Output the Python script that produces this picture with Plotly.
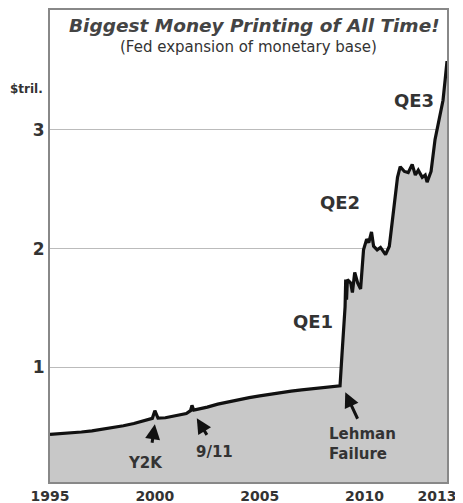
import plotly.graph_objects as go

years = [1995.0, 1995.5, 1996.0, 1996.5, 1997.0, 1997.5, 1998.0, 1998.5, 1999.0, 1999.5,
         1999.88, 2000.0, 2000.08, 2000.15, 2000.5, 2001.0, 2001.5, 2001.7, 2001.77, 2001.85,
         2002.0, 2002.5, 2003.0, 2003.5, 2004.0, 2004.5, 2005.0, 2005.5, 2006.0, 2006.5,
         2007.0, 2007.5, 2008.0, 2008.5, 2008.83, 2008.92, 2009.07, 2009.1, 2009.14, 2009.18,
         2009.34, 2009.42, 2009.53, 2009.67, 2009.81, 2009.95, 2010.1, 2010.2, 2010.33, 2010.43,
         2010.6, 2010.76, 2011.0, 2011.18, 2011.38, 2011.57, 2011.7, 2011.9, 2012.08, 2012.27,
         2012.42, 2012.56, 2012.75, 2012.89, 2012.98, 2013.17, 2013.36, 2013.55, 2013.74, 2013.84,
         2013.93]
base = [0.435, 0.44, 0.447, 0.455, 0.465, 0.478, 0.49, 0.508, 0.527, 0.548,
        0.57, 0.635, 0.60, 0.572, 0.575, 0.59, 0.61, 0.635, 0.68, 0.64,
        0.645, 0.665, 0.69, 0.71, 0.728, 0.745, 0.76, 0.775, 0.79, 0.80,
        0.81, 0.82, 0.83, 0.838, 0.845, 1.1, 1.51, 1.74, 1.57, 1.74,
        1.71, 1.63, 1.80, 1.71, 1.66, 1.99, 2.08, 2.05, 2.14, 2.02,
        1.99, 2.01, 1.95, 2.02, 2.33, 2.60, 2.69, 2.65, 2.64, 2.71,
        2.62, 2.66, 2.60, 2.62, 2.56, 2.65, 2.92, 3.08, 3.25, 3.42,
        3.58]

x_tickvals = [1995, 2000, 2005, 2010, 2013.45]
x_ticktext = ["1995", "2000", "2005", "2010", "2013"]
y_tickvals = [1, 2, 3]
y_ticktext = ["1", "2", "3"]

FONT = "DejaVu Sans"
TXT = "#333333"

fig = go.Figure()
fig.add_trace(go.Scatter(
    x=years, y=base, mode="lines", fill="tozeroy",
    fillcolor="#c8c8c8", line=dict(color="#111111", width=3.2),
    hoverinfo="skip", showlegend=False))

anns = []
anns.append(dict(xref="paper", yref="paper", x=0.516, y=0.968, text="<b><i>Biggest Money Printing of All Time!</i></b>",
                 showarrow=False, font=dict(family=FONT, size=18.5, color="#444444"), xanchor="center", yanchor="middle"))
anns.append(dict(xref="paper", yref="paper", x=0.499, y=0.922, text="(Fed expansion of monetary base)",
                 showarrow=False, font=dict(family=FONT, size=15, color="#333333"), xanchor="center", yanchor="middle"))
anns.append(dict(xref="paper", yref="paper", x=-0.012, y=0.833, text="<b>$tril.</b>",
                 showarrow=False, font=dict(family=FONT, size=12, color=TXT), xanchor="right", yanchor="middle"))
for t, xx, yy in [("QE1", 2007.55, 1.39), ("QE2", 2008.85, 2.39), ("QE3", 2012.35, 3.25)]:
    anns.append(dict(x=xx, y=yy, text="<b>%s</b>" % t, showarrow=False,
                     font=dict(family=FONT, size=18, color=TXT), xanchor="center", yanchor="middle"))
anns.append(dict(x=2009.9, y=0.35, text="<b>Lehman<br>Failure</b>", showarrow=False,
                 font=dict(family=FONT, size=15, color=TXT), xanchor="center", yanchor="middle", align="left"))
anns.append(dict(x=1999.55, y=0.19, text="<b>Y2K</b>", showarrow=False,
                 font=dict(family=FONT, size=15, color=TXT), xanchor="center", yanchor="middle"))
anns.append(dict(x=2002.85, y=0.29, text="<b>9/11</b>", showarrow=False,
                 font=dict(family=FONT, size=15, color=TXT), xanchor="center", yanchor="middle"))
for hx, hy, ax, ay in [(2009.08, 0.79, 13, 28), (2000.0, 0.52, -3, 20), (2002.0, 0.57, 11, 18)]:
    anns.append(dict(x=hx, y=hy, text="", showarrow=True, ax=ax, ay=ay,
                     arrowhead=2, arrowsize=1, arrowwidth=3, arrowcolor="#111111"))

fig.update_layout(
    width=455, height=495,
    margin=dict(l=42, r=16, t=2, b=21),
    paper_bgcolor="white", plot_bgcolor="white",
    annotations=anns,
    xaxis=dict(range=[1995.0, 2013.93], tickvals=x_tickvals,
               ticktext=["<b>%s</b>" % t for t in x_ticktext],
               showgrid=False, zeroline=False, showline=True, linecolor="#888888", linewidth=2, mirror=True,
               ticks="", tickfont=dict(family=FONT, size=14, color=TXT), ticklabelstandoff=0,
               automargin=False),
    yaxis=dict(range=[0.034, 4.01], tickvals=y_tickvals, ticktext=["<b>%s</b>" % t for t in y_ticktext],
               showgrid=True, gridcolor="#bbbbbb", gridwidth=1, zeroline=False,
               showline=True, linecolor="#888888", linewidth=2, mirror=True,
               ticks="", tickfont=dict(family=FONT, size=17, color=TXT), automargin=False),
)
fig.write_html("out.html")
